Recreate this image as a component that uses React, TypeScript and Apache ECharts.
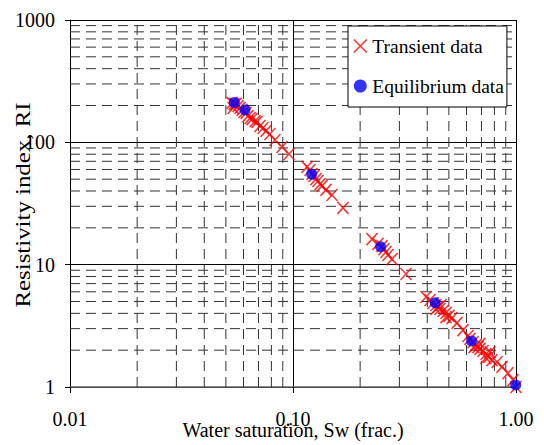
import React, { useEffect, useRef } from 'react';
import * as echarts from 'echarts';

// Transient data (red crosses): water saturation (frac.) and resistivity index
const transientSw = [
  0.0533, 0.0539, 0.0544, 0.0555, 0.0567, 0.0579, 0.0591, 0.0603, 0.0616, 0.0628,
  0.0642, 0.0655, 0.0676, 0.069, 0.0711, 0.0734, 0.0757, 0.0788, 0.083, 0.0893, 0.096,
  0.1156, 0.1192, 0.1217, 0.1242, 0.1268, 0.1295, 0.1322, 0.1349, 0.1406, 0.1496, 0.1675,
  0.2261, 0.2405, 0.2506, 0.2558, 0.2612, 0.2667, 0.2779, 0.3211,
  0.3948, 0.4114, 0.4244, 0.4378, 0.4378, 0.447, 0.4563, 0.461, 0.4707, 0.4855, 0.4855,
  0.5008, 0.5164, 0.5437, 0.5786, 0.6093,
  0.6219, 0.6415, 0.648, 0.6616, 0.6754, 0.6895, 0.6895, 0.7112, 0.7337, 0.7337, 0.7567,
  0.7646, 0.7806, 0.8219, 0.8653, 0.9207, 0.9694, 1.0,
];
const transientRI = [
  210, 191, 205, 206, 198, 191, 184, 177, 174, 164,
  158, 155, 149, 147, 136, 131, 124, 117, 104.5, 91.6, 80.3,
  62.9, 59.4, 55.1, 53.1, 50.1, 48.3, 45.6, 44.0, 40.8, 37.1, 29.1,
  16.2, 14.8, 14.2, 13.4, 12.7, 12.0, 11.1, 8.39,
  5.44, 5.14, 4.86, 4.68, 4.34, 4.51, 4.34, 4.68, 4.18, 4.03, 3.73,
  3.81, 3.66, 3.34, 2.92, 2.61,
  2.47, 2.33, 2.12, 2.2, 2.12, 2.05, 2.25, 1.97, 1.86, 1.73, 1.76,
  1.93, 1.66, 1.6, 1.46, 1.3, 1.14, 1.0,
];

// Equilibrium data (blue dots)
const equilibriumSw = [0.0546, 0.0609, 0.1213, 0.247, 0.434, 0.632, 0.997];
const equilibriumRI = [212, 184, 55.1, 14.0, 4.89, 2.38, 1.04];

// Axis ranges and minor grid values
const xMin = 0.01;
const xMax = 1;
const yMin = 1;
const yMax = 1000;
const xMinorGrid = [0.02, 0.03, 0.04, 0.05, 0.06, 0.07, 0.08, 0.09, 0.2, 0.3, 0.4, 0.5, 0.6, 0.7, 0.8, 0.9];
const yMinorGrid = [2, 3, 4, 5, 6, 7, 8, 9, 20, 30, 40, 50, 60, 70, 80, 90, 200, 300, 400, 500, 600, 700, 800, 900];

const seriesNames = ['Transient data', 'Equilibrium data'];
const xAxisTitle = 'Water saturation, Sw (frac.)';
const yAxisTitle = 'Resistivity index, RI';

export default function App() {
  const ref = useRef<HTMLDivElement>(null);

  useEffect(() => {
    if (!ref.current) return;
    const chart = echarts.init(ref.current, null, { renderer: 'svg' });
    const font = "'Liberation Serif', 'Times New Roman', serif";
    const crossPath = 'path://M0,0L10,10M10,0L0,10';
    const dashStyle = { stroke: '#333', lineWidth: 1, lineDash: [10, 6], fill: 'none' };

    chart.setOption({
      animation: false,
      backgroundColor: '#ffffff',
      grid: { left: 70, top: 20, width: 446, height: 367, containLabel: false, outerBoundsMode: 'none' },
      xAxis: {
        type: 'log',
        logBase: 10,
        min: xMin,
        max: xMax,
        name: xAxisTitle,
        nameLocation: 'middle',
        nameGap: 33,
        nameMoveOverlap: false,
        nameTextStyle: { fontFamily: font, fontSize: 20, color: '#000', verticalAlign: 'top' },
        axisLine: { show: true, onZero: false, lineStyle: { color: '#666', width: 1.5 } },
        axisTick: { show: true, inside: false, length: 6, lineStyle: { color: '#000' } },
        axisLabel: {
          formatter: (v: number) => v.toFixed(2),
          margin: 22,
          fontFamily: font,
          fontSize: 20,
          color: '#000',
        },
        splitLine: { show: true, lineStyle: { color: '#000', width: 1 } },
        minorTick: { show: false },
      },
      yAxis: {
        type: 'log',
        logBase: 10,
        min: yMin,
        max: yMax,
        axisLine: { show: true, onZero: false, lineStyle: { color: '#000', width: 1 } },
        axisTick: { show: true, inside: false, length: 5, lineStyle: { color: '#000' } },
        axisLabel: {
          formatter: (v: number) => String(Math.round(v)),
          margin: 15,
          fontFamily: font,
          fontSize: 20,
          color: '#000',
        },
        splitLine: { show: true, lineStyle: { color: '#000', width: 1 } },
        minorTick: { show: false },
      },
      legend: {
        orient: 'vertical',
        left: 348,
        top: 26,
        backgroundColor: '#ffffff',
        borderColor: '#000',
        borderWidth: 1,
        padding: [10, 3, 11, 5],
        itemGap: 20,
        itemWidth: 14,
        itemHeight: 13,
        textStyle: { fontFamily: font, fontSize: 19.5, color: '#000' },
        data: [
          { name: seriesNames[0], icon: crossPath, itemStyle: { color: 'rgba(0,0,0,0)', borderColor: '#ff0000', borderWidth: 1.6 } },
          { name: seriesNames[1], icon: 'circle' },
        ],
      },
      graphic: [
        {
          type: 'text',
          x: 23,
          y: 205,
          rotation: Math.PI / 2,
          scaleX: 1.13,
          z: 10,
          style: {
            text: yAxisTitle,
            fontFamily: font,
            fontSize: 22,
            fill: '#000',
            align: 'center',
            verticalAlign: 'middle',
          },
        },
      ],
      series: [
        {
          type: 'custom',
          silent: true,
          clip: false,
          z: 1,
          data: xMinorGrid.map((v) => [v, yMin]),
          renderItem: (params: any, api: any) => {
            const x = api.value(0);
            const p1 = api.coord([x, yMin]);
            const p2 = api.coord([x, yMax]);
            return {
              type: 'line',
              shape: { x1: p1[0], y1: p1[1], x2: p2[0], y2: p2[1] },
              style: dashStyle,
            };
          },
        },
        {
          type: 'custom',
          silent: true,
          clip: false,
          z: 1,
          data: yMinorGrid.map((v) => [xMin, v]),
          renderItem: (params: any, api: any) => {
            const y = api.value(1);
            const p1 = api.coord([xMin, y]);
            const p2 = api.coord([xMax, y]);
            return {
              type: 'line',
              shape: { x1: p1[0], y1: p1[1], x2: p2[0], y2: p2[1] },
              style: dashStyle,
            };
          },
        },
        {
          type: 'scatter',
          name: seriesNames[0],
          data: transientSw.map((s, i) => [s, transientRI[i]]),
          symbol: crossPath,
          symbolSize: [11, 12],
          clip: false,
          z: 3,
          itemStyle: { color: 'rgba(0,0,0,0)', borderColor: '#ff0000', borderWidth: 1.6 },
        },
        {
          type: 'scatter',
          name: seriesNames[1],
          data: equilibriumSw.map((s, i) => [s, equilibriumRI[i]]),
          symbol: 'circle',
          symbolSize: 11,
          clip: false,
          z: 4,
          itemStyle: { color: '#0000ff' },
        },
      ],
    });

    return () => chart.dispose();
  }, []);

  return (
    <div
      ref={ref}
      style={{ position: 'fixed', left: 0, top: 0, width: 544, height: 445, background: '#fff' }}
    />
  );
}
